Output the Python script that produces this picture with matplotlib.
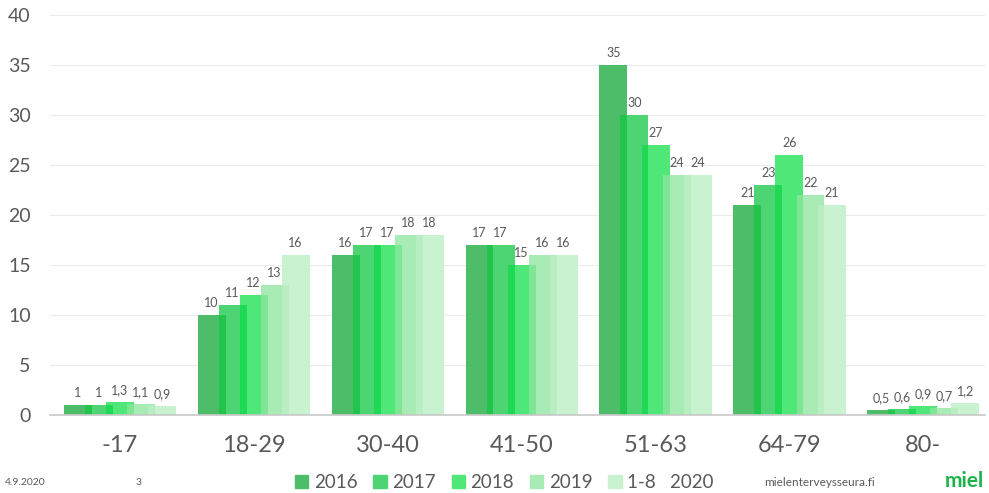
import matplotlib.pyplot as plt
from matplotlib.patches import Patch
import numpy as np

plt.rcParams['font.family'] = ['Lato', 'DejaVu Sans']

categories = ['-17', '18-29', '30-40', '41-50', '51-63', '64-79', '80-']
series = ['2016', '2017', '2018', '2019', '1-8   2020']
values = [
    [1, 10, 16, 17, 35, 21, 0.5],
    [1, 11, 17, 17, 30, 23, 0.6],
    [1.3, 12, 17, 15, 27, 26, 0.9],
    [1.1, 13, 18, 16, 24, 22, 0.7],
    [0.9, 16, 18, 16, 24, 21, 1.2],
]
yticks = [0, 5, 10, 15, 20, 25, 30, 35, 40]

colors = ['#4dbd69', '#4dd473', '#4fe778', '#a9ebb5', '#c9f2d1']
overlap_colors = ['#22c44c', '#1fd853', '#7fe696', '#b9eec3']
text_gray = '#595959'

fig = plt.figure(figsize=(9.89, 4.93), dpi=100)
ax = fig.add_axes([0.0506, 0.158, 0.9454, 0.8114])

x = np.arange(len(categories))
step = 0.157
width = 0.209

for i, vals in enumerate(values):
    pos = x + (i - 2) * step
    ax.bar(pos, vals, width=width, color=colors[i], zorder=2 + i)
    for p, v in zip(pos, vals):
        label = ('%g' % v).replace('.', ',')
        ax.text(p, v + 0.6, label, ha='center', va='bottom', fontsize=9,
                color=text_gray, zorder=10)

# darker strips where neighbouring bars overlap
ov = width - step
for i in range(len(values) - 1):
    lo = np.minimum(values[i], values[i + 1])
    left = x + (i + 1 - 2) * step - width / 2
    ax.bar(left, lo, width=ov, align='edge', color=overlap_colors[i], zorder=8)

ax.set_xlim(-0.52, 6.46)
ax.set_ylim(0, 40)
ax.set_yticks(yticks)
ax.set_xticks(x)
ax.set_xticklabels(categories, fontsize=17, color=text_gray)
ax.tick_params(axis='y', labelsize=14, labelcolor=text_gray, length=0, pad=14)
ax.tick_params(axis='x', length=0, pad=14)
ax.grid(axis='y', color='#ebebeb', linewidth=0.8, zorder=0)
for s in ['top', 'right', 'left']:
    ax.spines[s].set_visible(False)
ax.spines['bottom'].set_color('#c8c8c8')
ax.spines['bottom'].set_linewidth(1.2)
ax.spines['bottom'].set_zorder(12)

handles = [Patch(color=c) for c in colors]
fig.legend(handles, series, loc='center', bbox_to_anchor=(0.51, 0.022),
           ncol=5, frameon=False, fontsize=13.5, handlelength=0.7,
           handleheight=0.7, handletextpad=0.3, columnspacing=0.85,
           labelcolor=text_gray)

fig.text(0.005, 0.022, '4.9.2020', fontsize=7.5, color=text_gray, va='center')
fig.text(0.137, 0.022, '3', fontsize=7.5, color=text_gray, va='center')
fig.text(0.773, 0.022, 'mielenterveysseura.fi', fontsize=8.5, color=text_gray,
         va='center')
fig.text(0.995, 0.024, 'miel', fontsize=15, fontweight='bold', color='#1db34a',
         va='center', ha='right')

fig.savefig('out.png', dpi=100)
